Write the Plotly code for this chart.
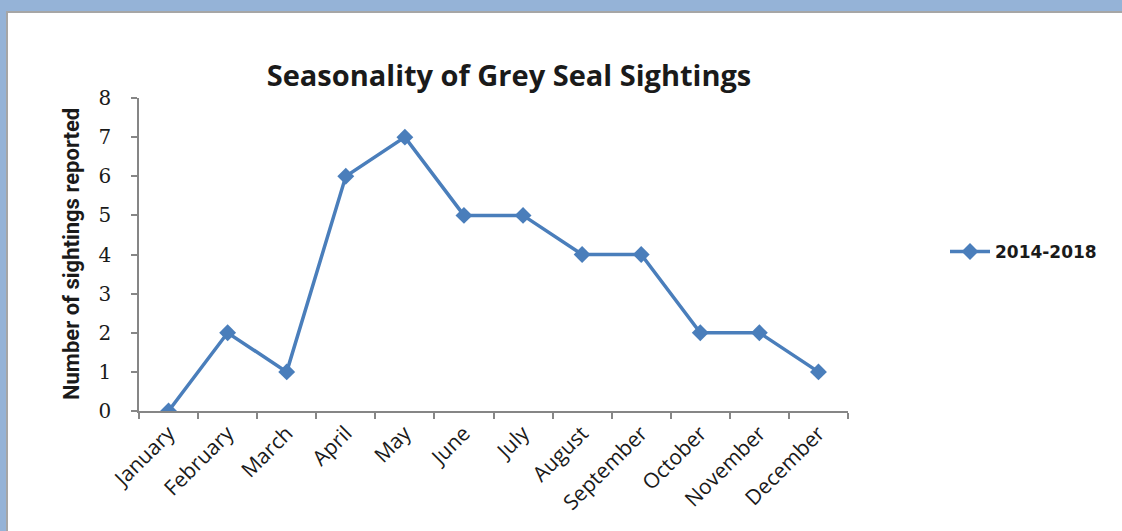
import plotly.graph_objects as go

months = ["January", "February", "March", "April", "May", "June", "July",
          "August", "September", "October", "November", "December"]
sightings = [0, 2, 1, 6, 7, 5, 5, 4, 4, 2, 2, 1]
series_name = "2014-2018"

W, H = 1122, 531
ML, MR, MT, MB = 139, 274, 98, 120
PW, PH = W - ML - MR, H - MT - MB


def px_x(p):
    return (p - ML) / PW


def px_y(p):
    return (H - MB - p) / PH


line_blue = "#4A7EBB"
axis_grey = "#868686"

fig = go.Figure()
fig.add_trace(go.Scatter(
    x=months, y=sightings, name=series_name, mode="lines+markers",
    line=dict(color=line_blue, width=3.5),
    marker=dict(symbol="diamond", size=13, color=line_blue),
))

fig.update_layout(
    width=W, height=H,
    margin=dict(l=ML, r=MR, t=MT, b=MB),
    paper_bgcolor="#95B3D7",
    plot_bgcolor="rgba(0,0,0,0)",
    font=dict(family="Open Sans, Carlito, Calibri, sans-serif", color="#000000"),
    title=dict(text="<b>Seasonality of Grey Seal Sightings</b>",
               font=dict(size=29, family="Open Sans, sans-serif", color="#1a1a1a"),
               x=509 / W, xanchor="center", y=1 - 76 / H, yanchor="middle"),
    showlegend=True,
    legend=dict(x=px_x(945), y=px_y(252), xanchor="left", yanchor="middle",
                bgcolor="rgba(0,0,0,0)",
                font=dict(size=17, family="DejaVu Sans, sans-serif", color="#1a1a1a",
                          weight="bold"),
                itemwidth=40),
    shapes=[
        dict(type="rect", xref="paper", yref="paper", layer="below",
             x0=px_x(7), x1=px_x(W + 10), y0=px_y(12), y1=px_y(H + 10),
             fillcolor="#FFFFFF", line=dict(color="#A6A6A6", width=2)),
    ],
    annotations=[
        dict(text="<b>Number of sightings reported</b>", textangle=-90,
             xref="paper", yref="paper", x=px_x(71), y=px_y(254),
             xanchor="center", yanchor="middle", showarrow=False,
             font=dict(size=22, family="Liberation Sans Narrow, Arial Narrow, Roboto, sans-serif",
                       color="#1a1a1a")),
    ],
)

fig.update_xaxes(
    type="category", range=[-0.5, 11.5], tickson="boundaries",
    showline=True, linecolor=axis_grey, linewidth=1.5,
    ticks="outside", ticklen=6, tickcolor=axis_grey, tickwidth=1.5,
    showgrid=False, zeroline=False, tickangle=-45,
    tickfont=dict(size=21, family="Open Sans, sans-serif", color="#1a1a1a"),
)
fig.update_yaxes(
    range=[0, 8], dtick=1,
    showline=True, linecolor=axis_grey, linewidth=1.5,
    ticks="outside", ticklen=6, tickcolor=axis_grey, tickwidth=1.5,
    ticklabelstandoff=16,
    showgrid=False, zeroline=False,
    tickfont=dict(size=20, family="DejaVu Serif, serif", color="#1a1a1a"),
)

fig.write_html("out.html")
